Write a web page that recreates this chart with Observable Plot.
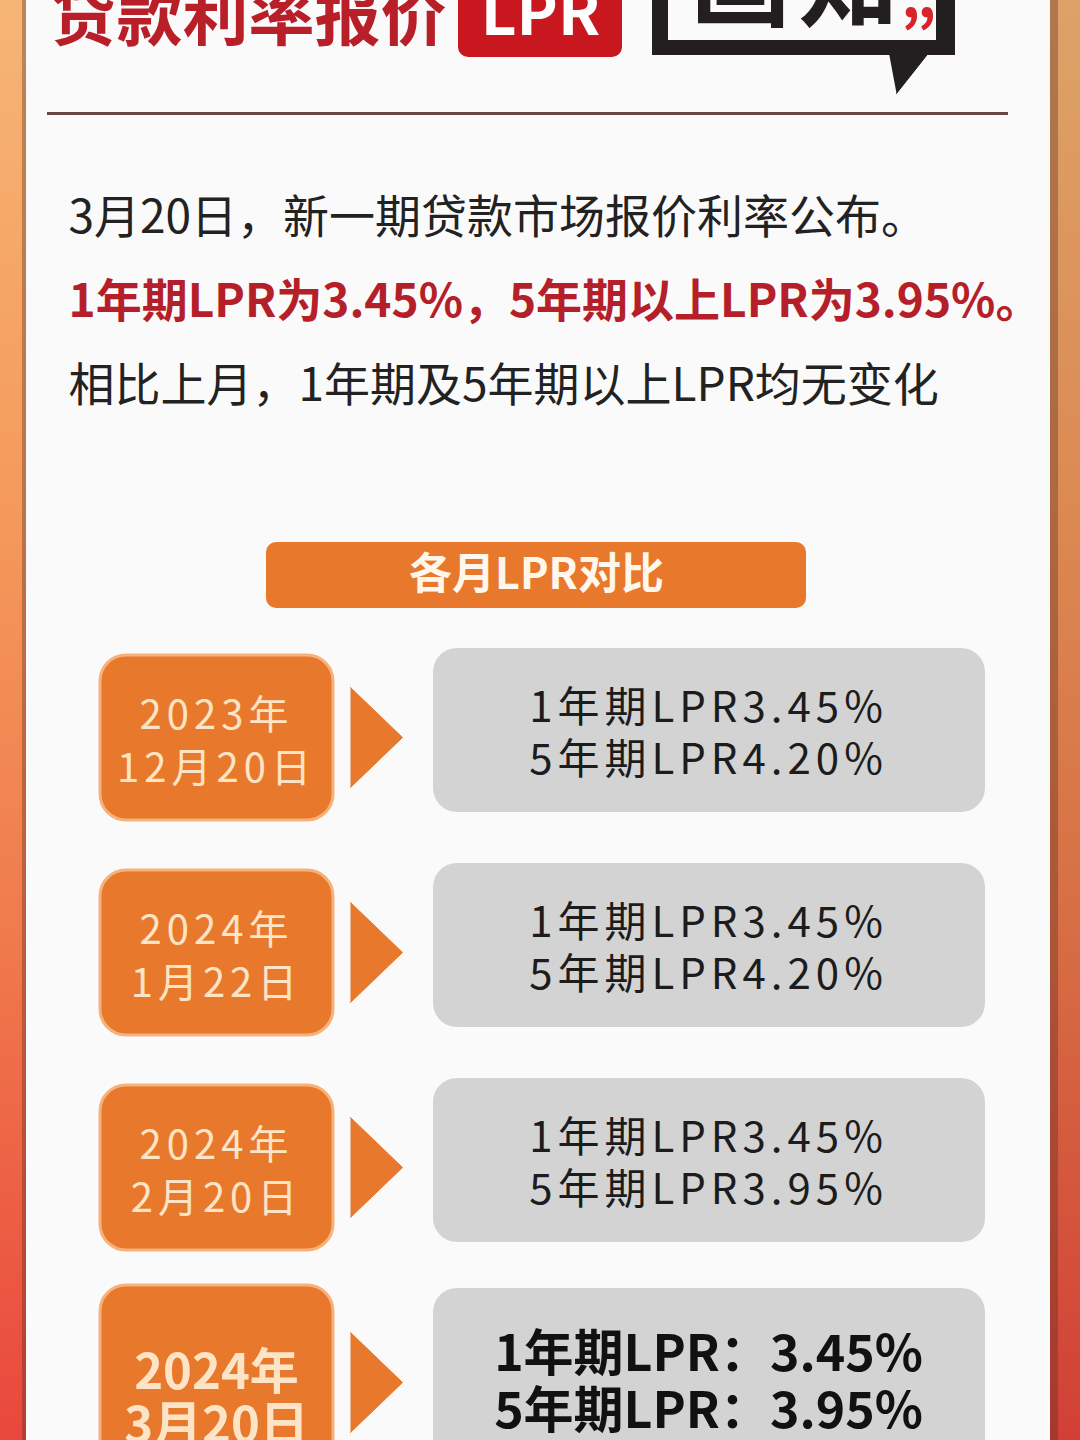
<!DOCTYPE html>
<html><head><meta charset="utf-8">
<script src="https://cdn.jsdelivr.net/npm/d3@7"></script>
<script src="https://cdn.jsdelivr.net/npm/@observablehq/plot@0.6"></script>
<style>
html,body{margin:0;padding:0;background:#fff;overflow:hidden;width:1080px;height:1440px;}
#chart svg{display:block;}
</style></head><body><div id="chart"></div>
<script>
// ---- data ----
const titleText = "贷款利率报价";
const badgeText = "LPR";
const logoChars = ["画", "知"];
const introLines = [
  "3月20日，新一期贷款市场报价利率公布。",
  "1年期LPR为3.45%，5年期以上LPR为3.95%。",
  "相比上月，1年期及5年期以上LPR均无变化"
];
const sectionTitle = "各月LPR对比";
const years = ["2023年", "2024年", "2024年", "2024年"];
const monthDays = ["12月20日", "1月22日", "2月20日", "3月20日"];
const lpr1y = [3.45, 3.45, 3.45, 3.45];
const lpr5y = [4.20, 4.20, 3.95, 3.95];
const termLabels = ["1年期LPR", "5年期LPR"];

// ---- layout ----
const W = 1080, H = 1440;
const L = {
  panelX1: 26, panelX2: 1050,
  rowC0: 730, rowStep: 215,
  dateX1: 100, dateX2: 333, dateMid: 216,
  triX1: 350, triX2: 402,
  grayX1: 433, grayX2: 985, grayMid: 708
};
const fmt = v => v.toFixed(2) + "%";
const last = years.length - 1;
const rows = years.map((y, i) => ({
  i,
  latest: i === last,
  c: L.rowC0 + i * L.rowStep,
  date: y + "\n" + monthDays[i],
  rates: i === last
    ? termLabels[0] + "：" + fmt(lpr1y[i]) + "\n" + termLabels[1] + "：" + fmt(lpr5y[i])
    : termLabels[0] + fmt(lpr1y[i]) + "\n" + termLabels[1] + fmt(lpr5y[i])
}));
const triPts = rows.flatMap(r => [
  {row: r.i, x: L.triX1, y: r.c + 7 - 50},
  {row: r.i, x: L.triX2, y: r.c + 7},
  {row: r.i, x: L.triX1, y: r.c + 7 + 50}
]);
const tailPts = [{x: 888, y: 50}, {x: 930, y: 50}, {x: 896, y: 93}];

const FONT = "'Noto Sans CJK SC', 'Noto Sans', sans-serif";
const ORANGE = "#e8792c";

const defs = () => {
  const d = d3.create("svg:defs");
  const g = d.append("linearGradient").attr("id", "bgGrad")
    .attr("x1", 0).attr("y1", 0).attr("x2", 0).attr("y2", 1);
  [[0, "#f6b574"], [0.35, "#f49a5c"], [0.65, "#f07a4c"], [1, "#e9473d"]]
    .forEach(([o, c]) => g.append("stop").attr("offset", o).attr("stop-color", c));
  return d.node();
};

const plot = Plot.plot({
  width: W, height: H, margin: 0,
  x: {domain: [0, W], range: [0, W], axis: null},
  y: {domain: [0, H], range: [0, H], axis: null},
  style: {fontFamily: FONT, background: "transparent", overflow: "hidden"},
  marks: [
    defs,
    // background frame
    Plot.rect([0], {x1: 0, x2: W, y1: 0, y2: H, fill: "url(#bgGrad)"}),
    Plot.rect([0], {x1: L.panelX2, x2: W, y1: 0, y2: H, fill: "#000", fillOpacity: 0.1}),
    Plot.rect([0], {x1: L.panelX1 - 4, x2: L.panelX2 + 8, y1: 0, y2: H, fill: "#5a2a20", fillOpacity: 0.35}),
    Plot.rect([0], {x1: L.panelX1, x2: L.panelX2, y1: 0, y2: H, fill: "#fbfafa"}),
    // header
    Plot.text([titleText], {x: 50, y: 18, text: d => d, textAnchor: "start", fontSize: 66, fontWeight: "bold", fill: "#b81f28"}),
    Plot.rect([0], {x1: 458, x2: 622, y1: -30, y2: 57, rx: 10, fill: "#c8171e"}),
    Plot.text([badgeText], {x: 540, y: 15, text: d => d, fontSize: 62, fontWeight: "bold", fill: "#fff"}),
    Plot.rect([0], {x1: 652, x2: 955, y1: -30, y2: 55, fill: "#231f20"}),
    Plot.rect([0], {x1: 668, x2: 936, y1: -30, y2: 40, fill: "#fbfafa"}),
    Plot.line(tailPts, {x: "x", y: "y", fill: "#231f20", stroke: "#231f20", strokeWidth: 1}),
    Plot.text(logoChars, {x: (d, i) => 740 + i * 108, y: -14, text: d => d, fontSize: 100, fontWeight: "bold", fill: "#231f20"}),
    Plot.text(["„"], {x: 918, y: -2, text: d => d, fontSize: 64, fontWeight: "bold", fill: "#d8232a"}),
    Plot.ruleY([113], {x1: 47, x2: 1008, stroke: "#6a4848", strokeWidth: 3}),
    // intro text
    Plot.text(introLines, {filter: (d, i) => i !== 1, x: 68, y: (d, i) => 218 + i * 84, text: d => d, textAnchor: "start", fontSize: 46, fill: "#222"}),
    Plot.text(introLines, {filter: (d, i) => i === 1, x: 68, y: (d, i) => 218 + i * 84, text: d => d, textAnchor: "start", fontSize: 46, fontWeight: "bold", fill: "#b51f2a"}),
    // section title
    Plot.rect([0], {x1: 266, x2: 806, y1: 542, y2: 608, rx: 10, fill: ORANGE}),
    Plot.text([sectionTitle], {x: 536, y: 575, text: d => d, fontSize: 43, fontWeight: "bold", fill: "#fff6ec"}),
    // rows
    Plot.rect(rows, {x1: L.grayX1, x2: L.grayX2, y1: d => d.c - (d.latest ? 87 : 82), y2: d => d.c + (d.latest ? 160 : 82), rx: 24, fill: "#d3d3d3"}),
    Plot.rect(rows, {x1: L.dateX1, x2: L.dateX2, y1: d => d.c - (d.latest ? 90 : 75), y2: d => d.c + (d.latest ? 170 : 90), rx: 26, fill: ORANGE, stroke: "#f6b27c", strokeWidth: 3}),
    Plot.line(triPts, {x: "x", y: "y", z: "row", fill: ORANGE, stroke: ORANGE, strokeWidth: 1}),
    Plot.text(rows, {filter: d => !d.latest, x: L.dateMid, y: d => d.c + 8, text: "date", fontSize: 40, lineHeight: 1.32, fill: "#fde4c6", ariaDescription: "spaced"}),
    Plot.text(rows, {filter: d => d.latest, x: L.dateMid, y: d => d.c + 23, text: "date", fontSize: 49, lineHeight: 1.08, fontWeight: "bold", fill: "#fde4c6"}),
    Plot.text(rows, {filter: d => !d.latest, x: L.grayMid, y: d => d.c + 1, text: "rates", fontSize: 42, lineHeight: 1.24, fill: "#1c1c1c", ariaDescription: "spaced"}),
    Plot.text(rows, {filter: d => d.latest, x: L.grayMid, y: d => d.c + 6, text: "rates", fontSize: 50, lineHeight: 1.14, fontWeight: "bold", fill: "#111"})
  ]
});
d3.select(plot).selectAll('g[aria-description="spaced"] text').style("letter-spacing", "5px");
document.getElementById("chart").appendChild(plot);
</script></body></html>
